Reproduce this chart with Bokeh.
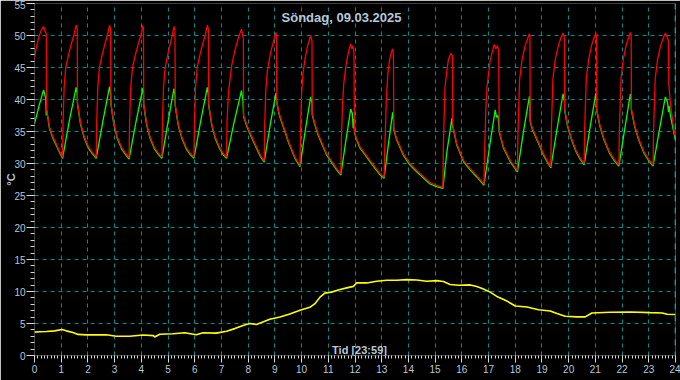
from bokeh.plotting import figure
from bokeh.models import Range1d, SingleIntervalTicker, FixedTicker, Span, Label
from bokeh.embed import file_html
from bokeh.resources import INLINE

# ---------------- data ----------------
title_text = "Söndag, 09.03.2025"
x_title = "Tid [23:59]"
y_title = "°C"

x_ticks = list(range(0, 25))
y_ticks = list(range(0, 56, 5))

red_t = [0.00, 0.06, 0.15, 0.25, 0.34, 0.40, 0.44, 0.45, 0.56, 0.68, 0.81, 0.93, 1.05,
         1.07, 1.11, 1.17, 1.27, 1.36, 1.48, 1.56, 1.60, 1.61, 1.72, 1.86, 2.02, 2.17, 2.31,
         2.33, 2.37, 2.43, 2.53, 2.62, 2.74, 2.81, 2.85, 2.86, 2.97, 3.10, 3.26, 3.41, 3.54,
         3.56, 3.60, 3.67, 3.77, 3.87, 3.99, 4.06, 4.08, 4.09, 4.20, 4.33, 4.49, 4.64, 4.77,
         4.79, 4.83, 4.89, 4.98, 5.06, 5.16, 5.22, 5.26, 5.27, 5.38, 5.52, 5.68, 5.83, 5.97,
         5.99, 6.03, 6.09, 6.19, 6.28, 6.40, 6.47, 6.51, 6.52, 6.63, 6.76, 6.92, 7.06, 7.19,
         7.21, 7.26, 7.31, 7.39, 7.50, 7.63, 7.75, 7.82, 7.83, 7.95, 8.06, 8.31, 8.47, 8.60,
         8.62, 8.66, 8.72, 8.81, 8.91, 8.98, 9.04, 9.06, 9.07, 9.15, 9.25, 9.50, 9.75, 9.94,
         9.96, 10.00, 10.05, 10.13, 10.22, 10.29, 10.34, 10.39, 10.40, 10.50, 10.62, 10.94, 11.31, 11.47,
         11.49, 11.53, 11.58, 11.66, 11.75, 11.84, 11.88, 11.92, 11.96, 11.98, 12.05, 12.19, 12.56, 12.94, 13.09,
         13.12, 13.15, 13.17, 13.23, 13.29, 13.35, 13.41, 13.44, 13.45, 13.55, 13.81, 14.05, 14.31, 14.81, 15.05, 15.29,
         15.31, 15.37, 15.44, 15.50, 15.59, 15.65, 15.66, 15.81, 16.06, 16.31, 16.56, 16.83,
         16.86, 16.90, 16.94, 17.06, 17.21, 17.27, 17.33, 17.38, 17.40, 17.47, 17.56, 17.81, 17.96, 18.08,
         18.10, 18.16, 18.25, 18.37, 18.46, 18.53, 18.55, 18.56, 18.65, 18.81, 19.06, 19.20, 19.33,
         19.35, 19.41, 19.50, 19.62, 19.71, 19.79, 19.84, 19.85, 19.96, 20.10, 20.28, 20.44, 20.58,
         20.60, 20.66, 20.75, 20.86, 20.95, 21.02, 21.04, 21.05, 21.17, 21.32, 21.52, 21.71, 21.88,
         21.90, 21.96, 22.05, 22.16, 22.25, 22.31, 22.34, 22.35, 22.47, 22.62, 22.81, 23.00, 23.16,
         23.18, 23.24, 23.33, 23.45, 23.55, 23.62, 23.72, 23.74, 23.75, 23.81, 23.94, 24.00]
red_v = [46.4, 48.0, 49.6, 50.8, 51.4, 50.6, 50.3, 38.5, 35.7, 34.2, 33.1, 32.0, 31.0,
         36.5, 41.9, 45.0, 46.9, 48.4, 50.2, 51.6, 51.0, 39.5, 36.4, 34.2, 32.6, 31.7, 31.0,
         36.5, 41.9, 45.0, 46.9, 48.4, 50.2, 51.6, 51.0, 39.5, 36.3, 34.1, 32.5, 31.6, 30.9,
         36.4, 41.8, 45.0, 46.9, 48.4, 50.2, 51.6, 51.0, 39.3, 36.2, 34.1, 32.5, 31.6, 31.0,
         36.5, 41.8, 44.9, 46.8, 48.3, 50.1, 51.4, 50.8, 39.2, 36.2, 34.1, 32.5, 31.6, 31.0,
         36.5, 41.9, 45.0, 46.9, 48.4, 50.2, 51.6, 51.0, 39.4, 36.3, 34.2, 32.6, 31.6, 31.0,
         36.5, 41.0, 42.8, 45.5, 47.6, 49.6, 51.0, 49.5, 37.5, 36.0, 34.9, 32.6, 31.2, 30.4,
         36.0, 41.5, 44.5, 46.7, 48.5, 49.6, 50.5, 49.8, 39.8, 38.0, 36.7, 33.6, 31.0, 29.7,
         35.0, 41.0, 44.0, 46.4, 48.3, 49.3, 50.0, 49.2, 37.8, 36.2, 34.6, 31.5, 29.2, 28.4,
         33.5, 39.0, 42.5, 45.3, 47.3, 48.7, 47.9, 48.4, 47.5, 35.0, 34.0, 32.6, 30.5, 28.4, 27.9,
         33.1, 36.7, 39.8, 44.0, 46.1, 47.2, 47.9, 47.0, 35.5, 34.0, 31.5, 30.0, 28.9, 27.0, 26.6, 26.3,
         33.1, 41.9, 44.5, 46.3, 47.2, 46.8, 36.0, 33.1, 30.5, 29.2, 28.1, 26.8,
         33.0, 38.5, 41.9, 46.1, 48.6, 47.9, 48.4, 47.6, 35.2, 34.0, 32.6, 30.5, 29.6, 28.9,
         34.5, 43.0, 46.1, 48.4, 49.5, 50.3, 49.8, 36.7, 35.4, 33.9, 31.5, 30.4, 29.5,
         35.0, 43.2, 46.3, 48.5, 49.6, 50.4, 49.6, 38.5, 36.0, 34.0, 32.0, 30.8, 30.0,
         35.5, 43.3, 46.3, 48.5, 49.6, 50.4, 49.8, 38.5, 36.0, 33.9, 31.9, 30.6, 29.8,
         35.3, 43.3, 46.4, 48.6, 49.7, 50.5, 49.9, 38.5, 36.0, 33.9, 31.9, 30.6, 29.8,
         35.3, 43.2, 46.3, 48.5, 49.7, 50.4, 49.4, 49.0, 42.4, 39.3, 35.2, 34.1]

green_t = [0.00, 0.17, 0.34, 0.42, 0.44, 0.46, 0.56, 0.68, 0.81, 0.93, 1.05,
           1.30, 1.56, 1.60, 1.61, 1.72, 1.86, 2.02, 2.17, 2.31,
           2.56, 2.81, 2.85, 2.86, 2.97, 3.10, 3.26, 3.41, 3.54,
           3.80, 4.06, 4.08, 4.09, 4.20, 4.33, 4.49, 4.64, 4.77,
           5.00, 5.22, 5.26, 5.27, 5.38, 5.52, 5.68, 5.83, 5.97,
           6.22, 6.47, 6.51, 6.52, 6.63, 6.76, 6.92, 7.06, 7.19,
           7.47, 7.75, 7.80, 7.83, 7.95, 8.06, 8.31, 8.47, 8.60,
           8.82, 9.04, 9.06, 9.07, 9.15, 9.25, 9.50, 9.75, 9.94,
           10.14, 10.34, 10.39, 10.40, 10.50, 10.62, 10.94, 11.31, 11.47,
           11.66, 11.84, 11.90, 11.93, 11.96, 11.98, 12.05, 12.19, 12.56, 12.94, 13.09,
           13.25, 13.41, 13.44, 13.45, 13.55, 13.81, 14.05, 14.31, 14.81, 15.05, 15.29,
           15.44, 15.63, 15.65, 15.66, 15.81, 16.06, 16.31, 16.56, 16.83,
           17.04, 17.25, 17.30, 17.36, 17.40, 17.47, 17.56, 17.81, 17.96, 18.08,
           18.30, 18.53, 18.55, 18.56, 18.65, 18.81, 19.06, 19.20, 19.33,
           19.56, 19.79, 19.84, 19.85, 19.96, 20.10, 20.28, 20.44, 20.58,
           20.80, 21.02, 21.04, 21.05, 21.17, 21.32, 21.52, 21.71, 21.88,
           22.10, 22.31, 22.34, 22.35, 22.47, 22.62, 22.81, 23.00, 23.16,
           23.39, 23.62, 23.70, 23.74, 23.76, 23.81, 23.94, 24.00]
green_v = [36.2, 39.0, 41.5, 40.2, 37.5, 38.3, 35.5, 34.0, 32.9, 31.8, 30.8,
           36.6, 41.9, 40.8, 39.3, 36.2, 34.0, 32.4, 31.5, 30.8,
           36.6, 42.0, 40.8, 39.3, 36.1, 33.9, 32.3, 31.4, 30.7,
           36.5, 41.8, 40.8, 39.1, 36.0, 33.9, 32.3, 31.4, 30.8,
           36.5, 41.7, 40.6, 39.0, 36.0, 33.9, 32.3, 31.4, 30.8,
           36.6, 41.9, 40.8, 39.2, 36.1, 34.0, 32.4, 31.4, 30.8,
           36.4, 41.4, 40.0, 37.3, 35.8, 34.7, 32.4, 31.0, 30.2,
           35.9, 41.0, 40.0, 39.6, 37.8, 36.5, 33.4, 30.8, 29.5,
           35.2, 40.4, 39.4, 37.6, 36.0, 34.4, 31.3, 29.0, 28.2,
           33.6, 38.5, 37.8, 35.5, 37.0, 34.8, 33.8, 32.4, 30.3, 28.2, 27.7,
           33.0, 38.0, 36.8, 35.3, 33.8, 31.3, 29.8, 28.7, 26.8, 26.4, 26.1,
           31.8, 37.1, 36.0, 35.8, 32.9, 30.3, 29.0, 27.9, 26.6,
           32.7, 38.4, 37.2, 37.5, 35.0, 33.8, 32.4, 30.3, 29.4, 28.7,
           34.8, 40.5, 39.5, 36.5, 35.2, 33.7, 31.3, 30.2, 29.3,
           35.3, 40.9, 39.8, 38.3, 35.8, 33.8, 31.8, 30.6, 29.8,
           35.6, 41.0, 40.0, 38.3, 35.8, 33.7, 31.7, 30.4, 29.6,
           35.4, 40.9, 40.0, 38.3, 35.8, 33.7, 31.7, 30.4, 29.6,
           35.1, 40.4, 39.6, 38.0, 39.0, 37.5, 34.8, 33.7]

out_t = [0.00, 0.20, 0.45, 0.75, 1.03, 1.19, 1.44, 1.63, 1.94, 2.69, 3.06, 3.56, 4.06,
         4.45, 4.50, 4.69, 5.19, 5.62, 6.06, 6.31, 6.81, 7.19, 7.50, 7.81, 8.06, 8.31,
         8.62, 8.81, 9.19, 9.56, 9.94, 10.31, 10.50, 10.69, 10.87, 11.12, 11.44, 11.69,
         11.94, 12.06, 12.44, 12.81, 13.19, 13.56, 13.94, 14.31, 14.69, 15.06, 15.31,
         15.56, 15.87, 16.31, 16.56, 16.81, 17.06, 17.31, 17.69, 18.00, 18.44, 18.87,
         19.31, 19.56, 19.87, 20.31, 20.62, 20.87, 21.56, 22.31, 23.06, 23.50, 23.69, 24.00]
out_v = [3.65, 3.70, 3.75, 3.85, 4.06, 3.85, 3.60, 3.30, 3.23, 3.23, 3.00, 3.00, 3.20,
         3.10, 2.90, 3.33, 3.40, 3.55, 3.23, 3.55, 3.50, 3.80, 4.20, 4.70, 5.00, 4.85,
         5.36, 5.67, 6.03, 6.50, 7.06, 7.53, 8.10, 9.12, 9.74, 9.90, 10.30, 10.57,
         10.80, 11.34, 11.34, 11.60, 11.75, 11.75, 11.86, 11.80, 11.60, 11.70, 11.55,
         11.10, 10.98, 11.03, 10.77, 10.40, 9.90, 9.23, 8.50, 7.73, 7.58, 7.16,
         6.96, 6.55, 6.13, 6.03, 6.03, 6.65, 6.75, 6.80, 6.70, 6.65, 6.44, 6.40]

# ---------------- styling ----------------
FONT = "Liberation Sans"
TXT = "#b8c8d8"
GRID = "#008c8c"

p = figure(width=680, height=380, output_backend="svg", toolbar_location=None,
           x_range=Range1d(0, 24), y_range=Range1d(0, 55),
           min_border_left=34, min_border_right=5, min_border_top=3, min_border_bottom=25,
           background_fill_color="black", border_fill_color="black")
p.outline_line_color = None

p.xaxis.ticker = SingleIntervalTicker(interval=1, num_minor_ticks=8)
p.yaxis.ticker = SingleIntervalTicker(interval=5, num_minor_ticks=5)
for ax in (p.xaxis[0], p.yaxis[0]):
    ax.axis_line_color = None
    ax.major_tick_line_color = "#d8d8d8"
    ax.minor_tick_line_color = "#d8d8d8"
    ax.major_tick_in = 0
    ax.minor_tick_in = 0
    ax.major_tick_out = 8
    ax.minor_tick_out = 4
    ax.major_label_text_color = TXT
    ax.major_label_text_font = FONT
    ax.major_label_text_font_size = "10px"
p.xaxis.major_label_standoff = 2
p.yaxis.major_label_standoff = 1
p.xaxis.major_tick_out = 7
p.xaxis.minor_tick_out = 3

p.yaxis.axis_label = y_title
p.yaxis.axis_label_standoff = -6
p.yaxis.axis_label_text_color = TXT
p.yaxis.axis_label_text_font = FONT
p.yaxis.axis_label_text_font_size = "11px"
p.yaxis.axis_label_text_font_style = "bold"

p.xgrid.ticker = FixedTicker(ticks=x_ticks[1:-1])
p.ygrid.ticker = FixedTicker(ticks=y_ticks[1:-1])
for g in (p.xgrid[0], p.ygrid[0]):
    g.grid_line_color = GRID
    g.grid_line_dash = "4 4"
    g.grid_line_width = 1

p.add_layout(Span(location=24, dimension="height", line_color="#00e8f0",
                  line_dash="6 6", line_width=1.5))

p.line(out_t, out_v, line_color="#ffff00", line_width=1.6)
p.line(green_t, green_v, line_color="#00ff00", line_width=1.3)
p.line(red_t, red_v, line_color="#ff0000", line_width=1.3)

p.add_layout(Label(x=307, y=338, x_units="screen", y_units="screen", text=title_text,
                   text_align="center", text_baseline="middle", text_color=TXT,
                   text_font=FONT, text_font_size="13px", text_font_style="bold"))
p.add_layout(Label(x=325, y=6, x_units="screen", y_units="screen", text=x_title,
                   text_align="center", text_baseline="middle", text_color=TXT,
                   text_font=FONT, text_font_size="11px", text_font_style="bold"))

open("out.html", "w").write(file_html(p, INLINE))
